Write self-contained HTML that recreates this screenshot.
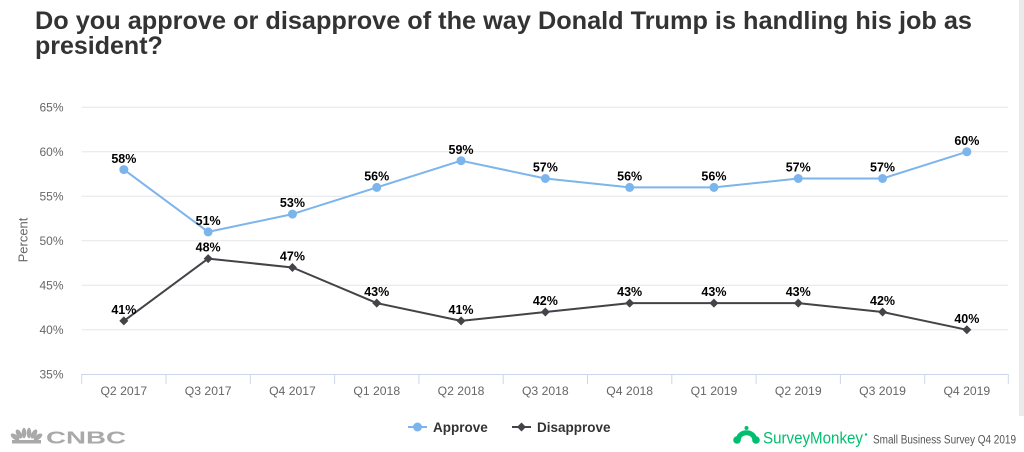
<!DOCTYPE html>
<html>
<head>
<meta charset="utf-8">
<style>
  html,body{margin:0;padding:0;background:#fff;}
  svg{display:block;}
  text{font-family:"Liberation Sans",Arial,sans-serif;}
</style>
</head>
<body>
<svg width="1024" height="452" viewBox="0 0 1024 452" xmlns="http://www.w3.org/2000/svg">
  <rect x="0" y="0" width="1024" height="452" fill="#ffffff"/>
  <!-- right grey strip -->
  <rect x="1019" y="0" width="5" height="416" fill="#ebebeb"/>

  <!-- Title -->
  <text x="35" y="29" font-size="25" font-weight="bold" fill="#333333" textLength="937" lengthAdjust="spacingAndGlyphs">Do you approve or disapprove of the way Donald Trump is handling his job as</text>
  <text x="35" y="54" font-size="25" font-weight="bold" fill="#333333">president?</text>

  <!-- Gridlines -->
  <g stroke="#e6e6e6" stroke-width="1">
    <line x1="81.7" y1="107.3" x2="1008.3" y2="107.3"/>
    <line x1="81.7" y1="151.8" x2="1008.3" y2="151.8"/>
    <line x1="81.7" y1="196.3" x2="1008.3" y2="196.3"/>
    <line x1="81.7" y1="240.8" x2="1008.3" y2="240.8"/>
    <line x1="81.7" y1="285.3" x2="1008.3" y2="285.3"/>
    <line x1="81.7" y1="329.8" x2="1008.3" y2="329.8"/>
  </g>
  <!-- X axis line + ticks -->
  <g stroke="#ccd6eb" stroke-width="1">
    <line x1="81.7" y1="374.5" x2="1008.3" y2="374.5"/>
    <line x1="81.7" y1="374" x2="81.7" y2="384"/>
    <line x1="166" y1="374" x2="166" y2="384"/>
    <line x1="250.3" y1="374" x2="250.3" y2="384"/>
    <line x1="334.6" y1="374" x2="334.6" y2="384"/>
    <line x1="418.9" y1="374" x2="418.9" y2="384"/>
    <line x1="503.2" y1="374" x2="503.2" y2="384"/>
    <line x1="587.5" y1="374" x2="587.5" y2="384"/>
    <line x1="671.8" y1="374" x2="671.8" y2="384"/>
    <line x1="756.1" y1="374" x2="756.1" y2="384"/>
    <line x1="840.4" y1="374" x2="840.4" y2="384"/>
    <line x1="924.7" y1="374" x2="924.7" y2="384"/>
    <line x1="1008.3" y1="374" x2="1008.3" y2="384"/>
  </g>

  <!-- Y labels -->
  <g font-size="12" fill="#666666" text-anchor="end">
    <text x="63.5" y="111.5">65%</text>
    <text x="63.5" y="156">60%</text>
    <text x="63.5" y="200.5">55%</text>
    <text x="63.5" y="245">50%</text>
    <text x="63.5" y="289.5">45%</text>
    <text x="63.5" y="334">40%</text>
    <text x="63.5" y="378.5">35%</text>
  </g>
  <text x="0" y="0" font-size="13" fill="#666666" text-anchor="middle" transform="translate(27.5,240) rotate(-90)">Percent</text>

  <!-- X labels -->
  <g font-size="12.2" fill="#666666" text-anchor="middle">
    <text x="123.85" y="395">Q2 2017</text>
    <text x="208.15" y="395">Q3 2017</text>
    <text x="292.45" y="395">Q4 2017</text>
    <text x="376.75" y="395">Q1 2018</text>
    <text x="461.05" y="395">Q2 2018</text>
    <text x="545.35" y="395">Q3 2018</text>
    <text x="629.65" y="395">Q4 2018</text>
    <text x="713.95" y="395">Q1 2019</text>
    <text x="798.25" y="395">Q2 2019</text>
    <text x="882.55" y="395">Q3 2019</text>
    <text x="966.85" y="395">Q4 2019</text>
  </g>

  <!-- Approve series -->
  <polyline fill="none" stroke="#7cb5ec" stroke-width="2" stroke-linejoin="round"
    points="123.85,169.6 208.15,231.9 292.45,214.1 376.75,187.4 461.05,160.7 545.35,178.5 629.65,187.4 713.95,187.4 798.25,178.5 882.55,178.5 966.85,151.8"/>
  <g fill="#7cb5ec">
    <circle cx="123.85" cy="169.6" r="4.5"/>
    <circle cx="208.15" cy="231.9" r="4.5"/>
    <circle cx="292.45" cy="214.1" r="4.5"/>
    <circle cx="376.75" cy="187.4" r="4.5"/>
    <circle cx="461.05" cy="160.7" r="4.5"/>
    <circle cx="545.35" cy="178.5" r="4.5"/>
    <circle cx="629.65" cy="187.4" r="4.5"/>
    <circle cx="713.95" cy="187.4" r="4.5"/>
    <circle cx="798.25" cy="178.5" r="4.5"/>
    <circle cx="882.55" cy="178.5" r="4.5"/>
    <circle cx="966.85" cy="151.8" r="4.5"/>
  </g>

  <!-- Disapprove series -->
  <polyline fill="none" stroke="#434348" stroke-width="2" stroke-linejoin="round"
    points="123.85,320.9 208.15,258.6 292.45,267.5 376.75,303.1 461.05,320.9 545.35,312 629.65,303.1 713.95,303.1 798.25,303.1 882.55,312 966.85,329.8"/>
  <g fill="#434348">
    <path d="M123.85,316.4 l4.5,4.5 l-4.5,4.5 l-4.5,-4.5z"/>
    <path d="M208.15,254.1 l4.5,4.5 l-4.5,4.5 l-4.5,-4.5z"/>
    <path d="M292.45,263 l4.5,4.5 l-4.5,4.5 l-4.5,-4.5z"/>
    <path d="M376.75,298.6 l4.5,4.5 l-4.5,4.5 l-4.5,-4.5z"/>
    <path d="M461.05,316.4 l4.5,4.5 l-4.5,4.5 l-4.5,-4.5z"/>
    <path d="M545.35,307.5 l4.5,4.5 l-4.5,4.5 l-4.5,-4.5z"/>
    <path d="M629.65,298.6 l4.5,4.5 l-4.5,4.5 l-4.5,-4.5z"/>
    <path d="M713.95,298.6 l4.5,4.5 l-4.5,4.5 l-4.5,-4.5z"/>
    <path d="M798.25,298.6 l4.5,4.5 l-4.5,4.5 l-4.5,-4.5z"/>
    <path d="M882.55,307.5 l4.5,4.5 l-4.5,4.5 l-4.5,-4.5z"/>
    <path d="M966.85,325.3 l4.5,4.5 l-4.5,4.5 l-4.5,-4.5z"/>
  </g>

  <!-- Data labels -->
  <g font-size="12.5" font-weight="bold" fill="#000000" text-anchor="middle">
    <text x="123.85" y="163">58%</text>
    <text x="208.15" y="225">51%</text>
    <text x="292.45" y="207">53%</text>
    <text x="376.75" y="180.5">56%</text>
    <text x="461.05" y="154">59%</text>
    <text x="545.35" y="171.5">57%</text>
    <text x="629.65" y="180.5">56%</text>
    <text x="713.95" y="180.5">56%</text>
    <text x="798.25" y="171.5">57%</text>
    <text x="882.55" y="171.5">57%</text>
    <text x="966.85" y="145">60%</text>

    <text x="123.85" y="314">41%</text>
    <text x="208.15" y="251.5">48%</text>
    <text x="292.45" y="260.5">47%</text>
    <text x="376.75" y="296">43%</text>
    <text x="461.05" y="314">41%</text>
    <text x="545.35" y="305">42%</text>
    <text x="629.65" y="296">43%</text>
    <text x="713.95" y="296">43%</text>
    <text x="798.25" y="296">43%</text>
    <text x="882.55" y="305">42%</text>
    <text x="966.85" y="323">40%</text>
  </g>

  <!-- Legend -->
  <line x1="408" y1="427" x2="427" y2="427" stroke="#7cb5ec" stroke-width="2"/>
  <circle cx="417.5" cy="427" r="4.5" fill="#7cb5ec"/>
  <text x="433" y="431.8" font-size="13.5" font-weight="bold" fill="#333333">Approve</text>
  <line x1="512" y1="427" x2="531" y2="427" stroke="#434348" stroke-width="2"/>
  <path d="M521.5,422.5 l4.5,4.5 l-4.5,4.5 l-4.5,-4.5z" fill="#434348"/>
  <text x="537" y="431.8" font-size="13.5" font-weight="bold" fill="#333333">Disapprove</text>

  <!-- CNBC logo -->
  <g fill="#a9a9a9">
    <ellipse cx="15" cy="437" rx="2.5" ry="5" transform="rotate(-55 15 437)"/>
    <ellipse cx="19" cy="434" rx="2.5" ry="5" transform="rotate(-30 19 434)"/>
    <ellipse cx="24" cy="433" rx="2.3" ry="5.2"/>
    <ellipse cx="29" cy="433" rx="2.3" ry="5.2"/>
    <ellipse cx="34" cy="434" rx="2.5" ry="5" transform="rotate(30 34 434)"/>
    <ellipse cx="38" cy="437" rx="2.5" ry="5" transform="rotate(55 38 437)"/>
    <rect x="12" y="440" width="29" height="3.5"/>
  </g>
  <text x="46" y="443.5" font-size="17.5" font-weight="bold" fill="#a9a9a9" textLength="80" lengthAdjust="spacingAndGlyphs">CNBC</text>

  <!-- SurveyMonkey logo -->
  <g fill="#00bf6f" stroke="#00bf6f">
    <path d="M738,441 C738,430 755,430 755,441" fill="none" stroke-width="5"/>
    <circle cx="737" cy="440" r="3.8" stroke="none"/>
    <circle cx="756" cy="440" r="3.8" stroke="none"/>
    <circle cx="746.5" cy="428" r="2" stroke="none"/>
  </g>
  <text x="763" y="443.3" font-size="16.5" fill="#00bf6f" textLength="100" lengthAdjust="spacingAndGlyphs">SurveyMonkey</text>
  <circle cx="866" cy="434.5" r="1.2" fill="#00bf6f"/>
  <text x="873" y="443.5" font-size="11.5" fill="#555555" textLength="143" lengthAdjust="spacingAndGlyphs">Small Business Survey Q4 2019</text>
</svg>
</body>
</html>
